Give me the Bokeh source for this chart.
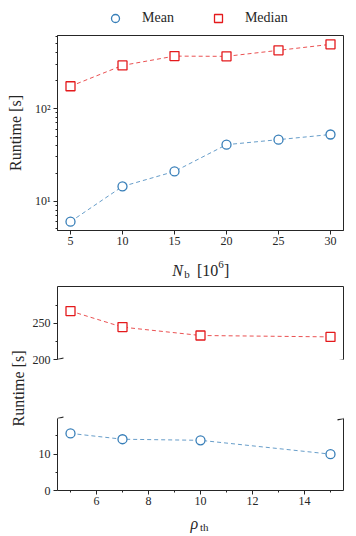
import math
from bokeh.plotting import figure
from bokeh.models import (Range1d, LinearAxis, FixedTicker, SingleIntervalTicker,
                          Legend, LegendItem, Label, Arrow)
from bokeh.layouts import column, row
from bokeh.embed import file_html
from bokeh.resources import INLINE

# ---------------- data ----------------
nb = [5, 10, 15, 20, 25, 30]
nb_mean = [6.0, 14.4, 20.9, 40.7, 46.1, 52.4]
nb_median = [174, 292, 368, 366, 425, 493]

rho = [5, 7, 10, 15]
rho_mean = [15.7, 14.1, 13.8, 10.0]
rho_median = [267, 244.8, 233.2, 231.3]

series_names = ["Mean", "Median"]
log_major = [10, 100]
log_labels = {10: "10\u00b9", 100: "10\u00b2"}
log_minor = [m * 10 ** e for e in (0, 1, 2) for m in range(2, 10)]
high_major = [200, 250]
high_minor = [225, 275]
low_major = [0, 10]
low_minor = [5, 15]
high_lim = (200, 301)
low_lim = (0, 19.8)

# ---------------- style / layout ----------------
FONT = "Liberation Serif"
BLUE = "#377eb8"
RED = "#e41a1c"
AX = "#262626"
TICK_FS = "12px"
LAB_FS = "16px"
W = 352                 # total width
FL, FR = 57, 9          # frame left border / right border
LABW = 28               # width of the strip holding the lower y label
BL = FL - LABW          # left border of the lower panels
BW = W - LABW           # width of the lower panels


def style_axis(ax, labels=True):
    ax.axis_line_color = AX
    ax.axis_line_width = 1
    ax.major_tick_line_color = AX
    ax.minor_tick_line_color = AX
    ax.major_tick_in = 0
    ax.minor_tick_in = 0
    ax.major_tick_out = 4
    ax.minor_tick_out = 2
    ax.major_label_text_font = FONT
    ax.major_label_text_font_size = TICK_FS
    ax.major_label_text_color = AX
    ax.axis_label_text_font = FONT
    ax.axis_label_text_font_size = LAB_FS
    ax.axis_label_text_font_style = "normal"
    ax.axis_label_text_color = AX
    if not labels:
        ax.major_tick_out = 0
        ax.minor_tick_out = 0
        ax.major_label_standoff = 0
        ax.axis_label_standoff = 0


def bare_axis():
    ax = LinearAxis(ticker=FixedTicker(ticks=[], minor_ticks=[]))
    style_axis(ax, labels=False)
    return ax


def draw(p, x, y, marker, color, lines=True):
    if lines:
        p.line(x, y, line_color=color, line_width=0.9, line_dash="4 3", line_alpha=0.85)
    return p.scatter(x, y, marker=marker, size=9, line_color=color,
                     fill_color="white", line_width=1.3)


def strip(width, height, left, right):
    s = figure(width=width, height=height, output_backend="svg", toolbar_location=None,
               x_axis_location=None, y_axis_location=None,
               min_border_left=left, min_border_right=right,
               min_border_top=0, min_border_bottom=0,
               x_range=Range1d(0, 1), y_range=Range1d(0, 1))
    s.outline_line_color = None
    s.xgrid.visible = False
    s.ygrid.visible = False
    return s


def add_text(p, parts):
    for txt, xx, yy, fs, st in parts:
        p.add_layout(Label(x=xx, y=yy, x_units="screen", y_units="screen", text=txt,
                           text_font=FONT, text_font_size=fs, text_font_style=st,
                           text_color=AX, text_align="left", text_baseline="alphabetic"))


# ---------------- legend strip ----------------
# the legend's own copies of the series lie outside this strip's ranges,
# so only their legend glyphs are seen
leg = strip(W, 35, FL, FR)
lc = draw(leg, nb, nb_mean, "circle", BLUE, lines=False)
ls = draw(leg, nb, nb_median, "square", RED, lines=False)
legend = Legend(items=[LegendItem(label=series_names[0], renderers=[lc]),
                       LegendItem(label=series_names[1], renderers=[ls])],
                orientation="horizontal", location=(48, 7),
                border_line_color=None, background_fill_alpha=0,
                label_text_font=FONT, label_text_font_size="14px",
                label_text_color=AX,
                glyph_width=20, glyph_height=20, label_height=20,
                label_standoff=17, spacing=34, padding=0, margin=0)
leg.add_layout(legend)

# ---------------- top panel ----------------
lo = math.log10(min(nb_mean))
hi = math.log10(max(nb_median))
pad = 0.05 * (hi - lo)
xpad = 0.05 * (max(nb) - min(nb))

p1 = figure(width=W, height=223, y_axis_type="log",
            x_range=Range1d(min(nb) - xpad, max(nb) + xpad),
            y_range=Range1d(10 ** (lo - pad), 10 ** (hi + pad)),
            output_backend="svg", toolbar_location=None,
            min_border_left=FL, min_border_right=FR,
            min_border_top=0, min_border_bottom=28)
p1.xgrid.visible = False
p1.ygrid.visible = False
p1.outline_line_color = AX
p1.outline_line_width = 1

draw(p1, nb, nb_mean, "circle", BLUE)
draw(p1, nb, nb_median, "square", RED)

ya = p1.yaxis[0]
ya.ticker = FixedTicker(ticks=log_major, minor_ticks=log_minor)
ya.major_label_overrides = log_labels
style_axis(ya)
ya.major_label_standoff = 3
ya.axis_label = "Runtime [s]"
ya.axis_label_standoff = 8

xa = p1.xaxis[0]
xa.ticker = SingleIntervalTicker(interval=5, num_minor_ticks=5)
style_axis(xa)
xa.minor_tick_out = 0
xa.major_label_standoff = 2

# x label strip: N_b [10^6]
XL1_H = 25
xl1 = strip(W, XL1_H, FL, FR)
add_text(xl1, [("N", 114.7, 13, "16px", "italic"),
               ("b", 126.8, 10, "11px", "normal"),
               ("[10", 139.5, 13, "16px", "normal"),
               ("6", 160.8, 19, "11px", "normal"),
               ("]", 166.5, 13, "16px", "normal")])

# ---------------- bottom panels (broken axis) ----------------
rx0 = min(rho) - 0.05 * (max(rho) - min(rho))
rx1 = max(rho) + 0.05 * (max(rho) - min(rho))

P2_H, MID_H, P3_H, XL3_H = 84, 51, 92, 24

p2 = figure(width=BW, height=P2_H, x_range=Range1d(rx0, rx1), y_range=Range1d(*high_lim),
            output_backend="svg", toolbar_location=None,
            x_axis_location=None, y_axis_location=None,
            min_border_left=BL, min_border_right=FR, min_border_top=3, min_border_bottom=8)
p3 = figure(width=BW, height=P3_H, x_range=Range1d(rx0, rx1), y_range=Range1d(*low_lim),
            output_backend="svg", toolbar_location=None,
            x_axis_location=None, y_axis_location=None,
            min_border_left=BL, min_border_right=FR, min_border_top=0, min_border_bottom=20)

for p in (p2, p3):
    p.xgrid.visible = False
    p.ygrid.visible = False
    p.outline_line_color = None

draw(p2, rho, rho_median, "square", RED)
draw(p3, rho, rho_mean, "circle", BLUE)

l2 = LinearAxis(ticker=FixedTicker(ticks=high_major, minor_ticks=high_minor))
style_axis(l2)
l2.major_label_standoff = 3
p2.add_layout(l2, "left")
p2.add_layout(bare_axis(), "right")
p2.add_layout(bare_axis(), "above")

l3 = LinearAxis(ticker=FixedTicker(ticks=low_major, minor_ticks=low_minor))
style_axis(l3)
l3.major_label_standoff = 3
p3.add_layout(l3, "left")
p3.add_layout(bare_axis(), "right")
b3 = LinearAxis(ticker=SingleIntervalTicker(interval=2, num_minor_ticks=2))
style_axis(b3)
b3.major_label_standoff = 2
p3.add_layout(b3, "below")

# break marks inside the two frames (data units)
dxm = 0.021 * (rx1 - rx0)
for p, (y0, y1), yb in ((p2, high_lim, high_lim[0]), (p3, low_lim, low_lim[1])):
    dym = 0.02 * (y1 - y0)
    for xc in (rx0, rx1):
        p.add_layout(Arrow(end=None, x_start=xc - dxm, y_start=yb - dym,
                           x_end=xc + dxm, y_end=yb + dym,
                           line_color=AX, line_width=1.2))

# gap above the lower frame, holding the rest of its break marks
mid = strip(BW, MID_H, BL, FR)
FW = BW - BL - FR
for cx in (0, FW):
    mid.add_layout(Arrow(end=None, x_start=cx - 6, y_start=-1.5,
                         x_end=cx + 6, y_end=1.5,
                         start_units="screen", end_units="screen",
                         line_color=AX, line_width=1.2))

# rho_th label strip
xl3 = strip(BW, XL3_H, BL, FR)
add_text(xl3, [("\u03c1", 133, 11, "16px", "italic"),
               ("th", 142.5, 8, "11px", "normal")])

LAB_H = P2_H + MID_H + P3_H + XL3_H
lab = strip(LABW, LAB_H, 0, 0)
lab.add_layout(Label(x=18, y=LAB_H - 105, x_units="screen", y_units="screen",
                     text="Runtime [s]",
                     angle=math.pi / 2, text_align="center", text_baseline="middle",
                     text_font=FONT, text_font_size=LAB_FS, text_color=AX))

layout = column(leg, p1, xl1, row(lab, column(p2, mid, p3, xl3)))

open("out.html", "w").write(file_html(layout, INLINE))
